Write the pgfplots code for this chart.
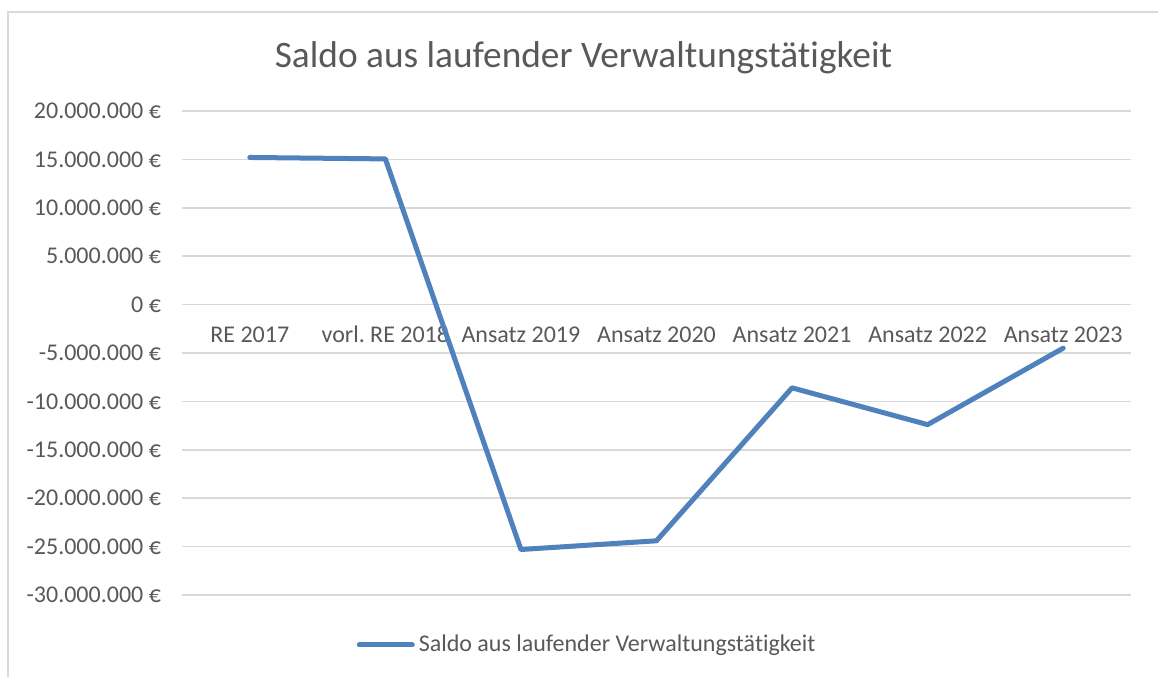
\documentclass[border=0pt]{standalone}
\usepackage{pgfplots}
\pgfplotsset{compat=1.18}
\usepackage{fontspec}
\setmainfont{Carlito}[Ligatures=NoCommon]
\frenchspacing
\definecolor{gridgrey}{HTML}{D9D9D9}
\definecolor{txtgrey}{HTML}{595959}
\definecolor{lineblue}{HTML}{4F81BD}
\begin{document}
\begin{tikzpicture}
\useasboundingbox[fill=white] (0,0) rectangle (579bp,338.5bp);
\draw[gridgrey, line width=1bp] (4bp,0) -- (4bp,332.25bp) -- (579bp,332.25bp);
\begin{axis}[
  at={(91bp,41bp)}, anchor=south west,
  scale only axis, width=474.5bp, height=242bp,
  xmin=-0.5, xmax=6.5, ymin=-30, ymax=20,
  axis line style={draw=none},
  major tick length=0pt,
  xtick={0,1,2,3,4,5,6},
  xticklabels={RE 2017, vorl. RE 2018, Ansatz 2019, Ansatz 2020, Ansatz 2021, Ansatz 2022, Ansatz 2023},
  xticklabel style={anchor=base, yshift=126bp, font=\fontsize{12bp}{14bp}\selectfont, text=txtgrey},
  ytick={-30,-25,-20,-15,-10,-5,0,5,10,15,20},
  yticklabels={-30.000.000 €,-25.000.000 €,-20.000.000 €,-15.000.000 €,-10.000.000 €,-5.000.000 €,0 €,5.000.000 €,10.000.000 €,15.000.000 €,20.000.000 €},
  yticklabel style={xshift=-7bp, font=\fontsize{12bp}{14bp}\selectfont, text=txtgrey},
  ymajorgrids, grid style={gridgrey, line width=0.75bp},
  legend style={at={(0.428,-0.1033)}, anchor=center, draw=none, fill=none,
    font=\fontsize{12bp}{14bp}\selectfont, text=txtgrey},
  legend image code/.code={\draw[line width=2.5bp, lineblue] (0,0) -- (26.5bp,0);},
  clip=false,
]
\addplot[lineblue, line width=2.5bp, line cap=round, line join=round] coordinates {
  (0,15.2) (1,15.05) (2,-25.3) (3,-24.4) (4,-8.6) (5,-12.4) (6,-4.5)
};
\addlegendentry{Saldo aus laufender Verwaltungstätigkeit}
\end{axis}
\node[anchor=base, font=\fontsize{18.67bp}{22bp}\selectfont, text=txtgrey] at (291.75bp,304.5bp) {Saldo aus laufender Verwaltungstätigkeit};
\end{tikzpicture}
\end{document}
